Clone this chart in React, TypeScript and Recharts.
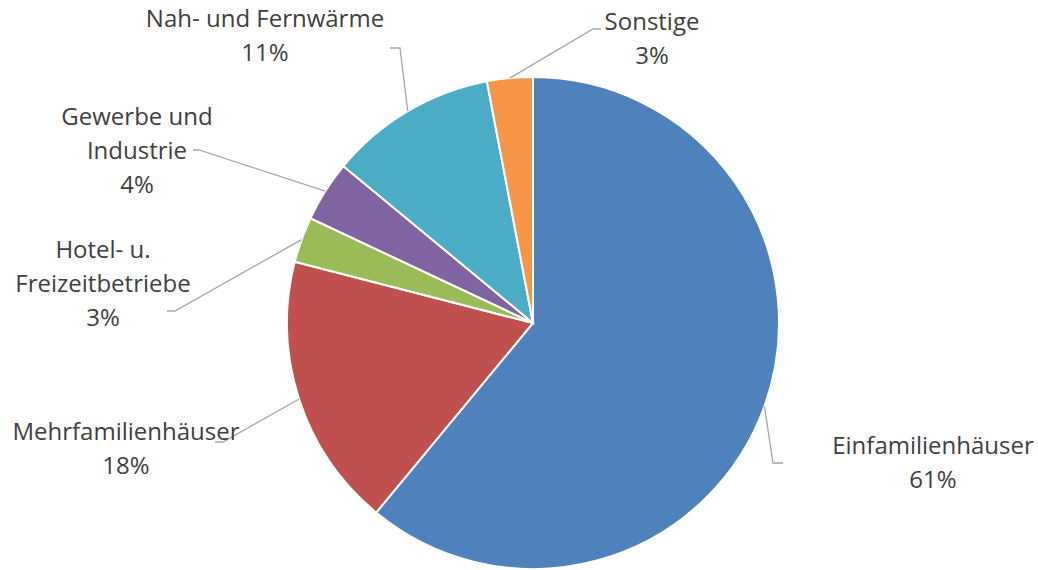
import { Cell, Pie, PieChart } from "recharts";

const CATEGORIES = [
  "Einfamilienhäuser",
  "Mehrfamilienhäuser",
  "Hotel- u.\nFreizeitbetriebe",
  "Gewerbe und\nIndustrie",
  "Nah- und Fernwärme",
  "Sonstige",
];
const SHARES = [61, 18, 3, 4, 11, 3];
const COLORS = ["#4F81BD", "#C0504D", "#9BBB59", "#8064A2", "#4BACC6", "#F79646"];

// leader line elbow / end and label anchor, in chart pixels
const LABEL_LAYOUT = [
  { elbow: [773, 463], end: [783, 463], textX: 933, firstBaseline: 454 },
  { elbow: [223, 442], end: [215, 442], textX: 126, firstBaseline: 440 },
  { elbow: [175, 311], end: [167, 311], textX: 103, firstBaseline: 258 },
  { elbow: [199, 150], end: [193, 150], textX: 137, firstBaseline: 125 },
  { elbow: [400, 48], end: [390, 48], textX: 265, firstBaseline: 27 },
  { elbow: [593, 29], end: [601, 29], textX: 652, firstBaseline: 30 },
];

const data = CATEGORIES.map((name, i) => ({ name, value: SHARES[i] }));
const RAD = Math.PI / 180;
const LINE_HEIGHT = 34;

function renderLabel(props: any) {
  const { cx, cy, midAngle, outerRadius, index, percent } = props;
  const sx = cx + outerRadius * Math.cos(-midAngle * RAD);
  const sy = cy + outerRadius * Math.sin(-midAngle * RAD);
  const layout = LABEL_LAYOUT[index];
  const lines = [...CATEGORIES[index].split("\n"), `${Math.round(percent * 100)}%`];
  return (
    <g key={`label-${index}`}>
      <polyline
        points={`${sx},${sy} ${layout.elbow[0]},${layout.elbow[1]} ${layout.end[0]},${layout.end[1]}`}
        fill="none"
        stroke="#A6A6A6"
        strokeWidth={1.3}
      />
      <text textAnchor="middle" fill="#404040" fontSize={24} fontFamily="'Open Sans', sans-serif">
        {lines.map((line, i) => (
          <tspan key={i} x={layout.textX} y={layout.firstBaseline + i * LINE_HEIGHT}>
            {line}
          </tspan>
        ))}
      </text>
    </g>
  );
}

export default function App() {
  return (
    <div style={{ position: "absolute", left: 0, top: 0, width: 1038, height: 570, background: "#fff" }}>
      <PieChart width={1038} height={570} margin={{ top: 0, right: 0, bottom: 0, left: 0 }}>
        <Pie
          data={data}
          dataKey="value"
          nameKey="name"
          cx={533}
          cy={323}
          outerRadius={246}
          startAngle={90}
          endAngle={-270}
          stroke="#FFFFFF"
          strokeWidth={2}
          label={renderLabel}
          labelLine={false}
          isAnimationActive={false}
        >
          {data.map((entry, i) => (
            <Cell key={entry.name} fill={COLORS[i]} />
          ))}
        </Pie>
      </PieChart>
    </div>
  );
}
